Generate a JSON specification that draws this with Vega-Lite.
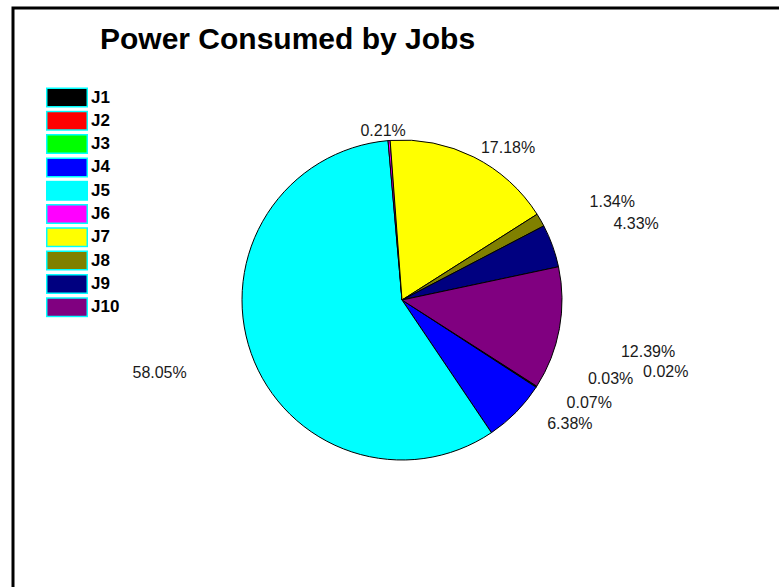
{
  "$schema": "https://vega.github.io/schema/vega-lite/v6.json",
  "width": 778,
  "height": 584,
  "autosize": {"type": "none"},
  "padding": {"left": 13, "top": 8, "right": 0, "bottom": 0},
  "background": "white",
  "view": {"stroke": "black", "strokeWidth": 3, "fill": "white"},
  "title": {"text": "Power Consumed by Jobs", "anchor": "start", "dx": 87, "offset": -47, "fontSize": 30, "font": "Liberation Sans", "fontWeight": "bold", "color": "black"},
  "data": {"values": [
    {"job": "J1", "ord": 1, "pct": 0.02, "label": "0.02%"},
    {"job": "J2", "ord": 2, "pct": 0.03, "label": "0.03%"},
    {"job": "J3", "ord": 3, "pct": 0.07, "label": "0.07%"},
    {"job": "J4", "ord": 4, "pct": 6.38, "label": "6.38%"},
    {"job": "J5", "ord": 5, "pct": 58.05, "label": "58.05%"},
    {"job": "J6", "ord": 6, "pct": 0.21, "label": "0.21%"},
    {"job": "J7", "ord": 7, "pct": 17.18, "label": "17.18%"},
    {"job": "J8", "ord": 8, "pct": 1.34, "label": "1.34%"},
    {"job": "J9", "ord": 9, "pct": 4.33, "label": "4.33%"},
    {"job": "J10", "ord": 10, "pct": 12.39, "label": "12.39%"}
  ]},
  "encoding": {
    "theta": {"field": "pct", "type": "quantitative", "stack": true, "scale": {"range": [2.14, 8.4232]}},
    "order": {"field": "ord", "type": "quantitative"}
  },
  "layer": [
    {
      "mark": {"type": "arc", "outerRadius": 160, "stroke": "black", "strokeWidth": 1},
      "encoding": {
        "color": {
          "field": "job", "type": "nominal",
          "scale": {
            "domain": ["J1", "J2", "J3", "J4", "J5", "J6", "J7", "J8", "J9", "J10"],
            "range": ["#000000", "#ff0000", "#00ff00", "#0000ff", "#00ffff", "#ff00ff", "#ffff00", "#808000", "#000080", "#800080"]
          },
          "legend": {
            "orient": "none", "legendX": 32, "legendY": 79, "title": null, "padding": 0,
            "symbolType": "M-0.93,-0.88H2.93V0.88H-0.93Z", "symbolSize": 441,
            "symbolStrokeColor": "#00ffff", "symbolStrokeWidth": 1.5, "symbolOpacity": 1,
            "labelFont": "Liberation Sans", "labelFontWeight": "bold", "labelFontSize": 17,
            "labelColor": "black", "clipHeight": 21, "rowPadding": 2.3, "labelOffset": 23
          }
        }
      }
    },
    {
      "mark": {"type": "text", "radius": 185, "dx": -4, "dy": 15, "font": "Liberation Sans", "fontSize": 16, "fill": "#1a1a1a"},
      "encoding": {"text": {"condition": {"test": "datum.job == 'J6'", "field": "label", "type": "nominal"}, "value": ""}}
    },
    {
      "mark": {"type": "text", "radius": 185, "dx": 23, "dy": 13, "font": "Liberation Sans", "fontSize": 16, "fill": "#1a1a1a"},
      "encoding": {"text": {"condition": {"test": "datum.job == 'J7'", "field": "label", "type": "nominal"}, "value": ""}}
    },
    {
      "mark": {"type": "text", "radius": 185, "dx": 50, "dy": -6, "font": "Liberation Sans", "fontSize": 16, "fill": "#1a1a1a"},
      "encoding": {"text": {"condition": {"test": "datum.job == 'J8'", "field": "label", "type": "nominal"}, "value": ""}}
    },
    {
      "mark": {"type": "text", "radius": 185, "dx": 60, "dy": -13, "font": "Liberation Sans", "fontSize": 16, "fill": "#1a1a1a"},
      "encoding": {"text": {"condition": {"test": "datum.job == 'J9'", "field": "label", "type": "nominal"}, "value": ""}}
    },
    {
      "mark": {"type": "text", "radius": 185, "dx": 64, "dy": 19, "font": "Liberation Sans", "fontSize": 16, "fill": "#1a1a1a"},
      "encoding": {"text": {"condition": {"test": "datum.job == 'J10'", "field": "label", "type": "nominal"}, "value": ""}}
    },
    {
      "mark": {"type": "text", "radius": 185, "dx": 108, "dy": -28, "font": "Liberation Sans", "fontSize": 16, "fill": "#1a1a1a"},
      "encoding": {"text": {"condition": {"test": "datum.job == 'J1'", "field": "label", "type": "nominal"}, "value": ""}}
    },
    {
      "mark": {"type": "text", "radius": 185, "dx": 53, "dy": -21, "font": "Liberation Sans", "fontSize": 16, "fill": "#1a1a1a"},
      "encoding": {"text": {"condition": {"test": "datum.job == 'J2'", "field": "label", "type": "nominal"}, "value": ""}}
    },
    {
      "mark": {"type": "text", "radius": 185, "dx": 32, "dy": 2, "font": "Liberation Sans", "fontSize": 16, "fill": "#1a1a1a"},
      "encoding": {"text": {"condition": {"test": "datum.job == 'J3'", "field": "label", "type": "nominal"}, "value": ""}}
    },
    {
      "mark": {"type": "text", "radius": 185, "dx": 36, "dy": -6, "font": "Liberation Sans", "fontSize": 16, "fill": "#1a1a1a"},
      "encoding": {"text": {"condition": {"test": "datum.job == 'J4'", "field": "label", "type": "nominal"}, "value": ""}}
    },
    {
      "mark": {"type": "text", "radius": 185, "dx": -68, "dy": 11, "font": "Liberation Sans", "fontSize": 16, "fill": "#1a1a1a"},
      "encoding": {"text": {"condition": {"test": "datum.job == 'J5'", "field": "label", "type": "nominal"}, "value": ""}}
    }
  ]
}
